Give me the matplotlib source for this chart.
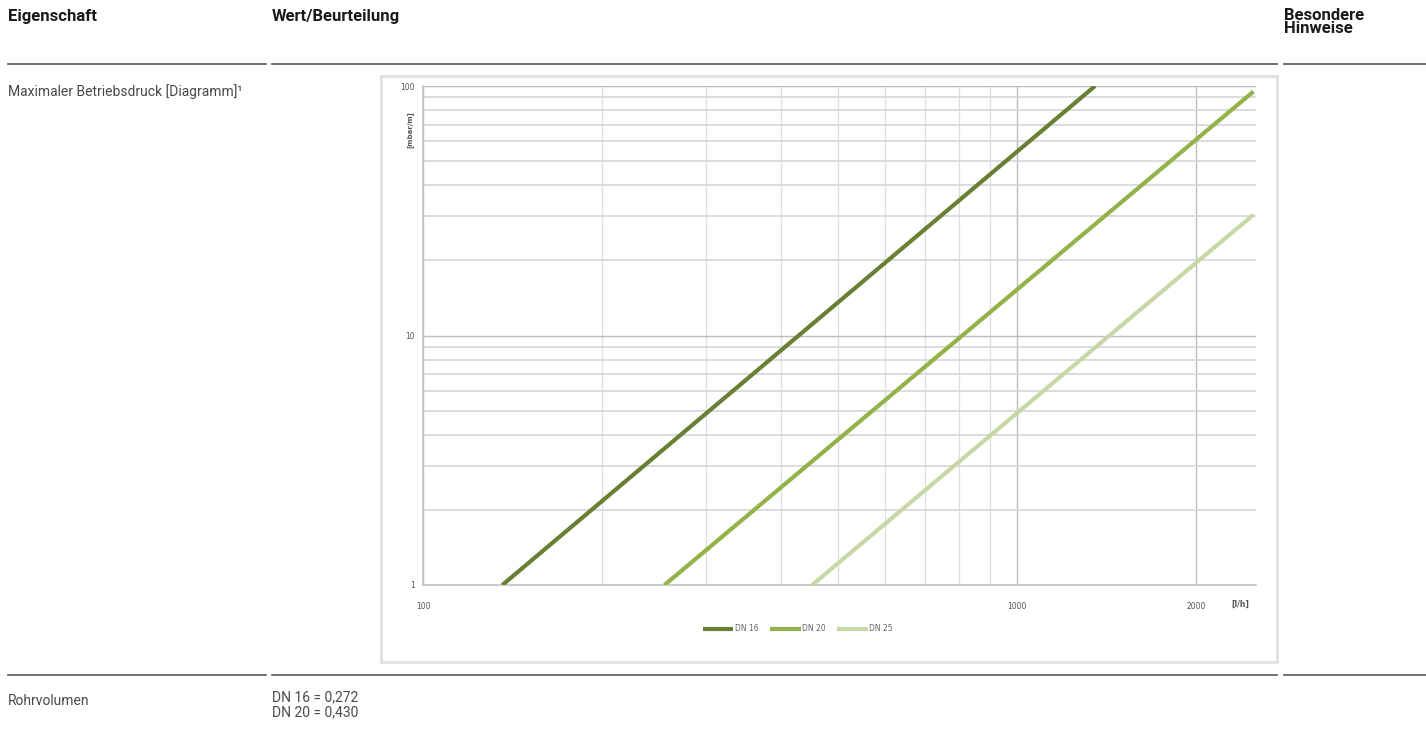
import matplotlib
matplotlib.use("Agg")
import matplotlib.pyplot as plt
from matplotlib.lines import Line2D
from matplotlib.patches import Rectangle
import numpy as np

# ---- data ----
series_names = ["DN 16", "DN 20", "DN 25"]
dn16_flow = [136, 1353]
dn16_pressure = [1, 100]
dn20_flow = [255, 2500]
dn20_pressure = [1, 95]
dn25_flow = [452, 2500]
dn25_pressure = [1, 30.5]
x_tick_values = [100, 1000, 2000]
x_tick_labels = ["100", "1000", "2000"]
y_tick_values = [1, 10, 100]
y_tick_labels = ["1", "10", "100"]
header_cols = ["Eigenschaft", "Wert/Beurteilung", "Besondere\nHinweise"]
row_labels = ["Maximaler Betriebsdruck [Diagramm]¹", "Rohrvolumen"]
rohr_values = ["DN 16 = 0,272", "DN 20 = 0,430"]

colors = ["#6b7f34", "#94b24a", "#c9d7a6"]

W, H = 1426, 735
fig = plt.figure(figsize=(W / 100, H / 100), dpi=100)
fig.patch.set_facecolor("white")

def fx(px):
    return px / W

def fy(py):
    return 1 - py / H

font = ["Roboto", "DejaVu Sans"]
hdr_color = "#1a1a1a"
txt_color = "#4a4a4a"

# header texts
fig.text(fx(8), fy(17), header_cols[0], fontsize=12, fontweight="bold", family=font,
         color=hdr_color, va="center", ha="left")
fig.text(fx(272), fy(17), header_cols[1], fontsize=12, fontweight="bold", family=font,
         color=hdr_color, va="center", ha="left")
fig.text(fx(1284), fy(22), header_cols[2], fontsize=12, fontweight="bold", family=font,
         color=hdr_color, va="center", ha="left", linespacing=0.85)

# table rules
for y in (64, 675):
    for x0, x1 in ((8, 266), (272, 1277), (1284, 1426)):
        fig.add_artist(Line2D([fx(x0), fx(x1)], [fy(y), fy(y)], color="#555555", lw=1.2,
                              transform=fig.transFigure))

fig.text(fx(8), fy(92), row_labels[0], fontsize=10, family=font, color=txt_color,
         va="center", ha="left")
fig.text(fx(8), fy(701), row_labels[1], fontsize=10, family=font, color=txt_color,
         va="center", ha="left")
fig.text(fx(272), fy(697), rohr_values[0], fontsize=10, family=font, color=txt_color,
         va="center", ha="left")
fig.text(fx(272), fy(712), rohr_values[1], fontsize=10, family=font, color=txt_color,
         va="center", ha="left")

# chart image frame
fig.add_artist(Rectangle((fx(381), fy(662)), fx(1277 - 381), (662 - 76) / H,
                         transform=fig.transFigure, facecolor="white",
                         edgecolor="#e0e0e0", lw=2.0, zorder=0))

# axes
ax = fig.add_axes([fx(423), fy(585), fx(1256 - 423), (585 - 86) / H])
ax.set_xscale("log")
ax.set_yscale("log")
ax.set_xlim(100, 2525)
ax.set_ylim(1, 100)

flows = [dn16_flow, dn20_flow, dn25_flow]
pressures = [dn16_pressure, dn20_pressure, dn25_pressure]
for name, f, p, c in zip(series_names, flows, pressures, colors):
    ax.plot(f, p, color=c, lw=3.0, label=name, solid_capstyle="butt", zorder=3)

ax.grid(True, which="major", axis="both", color="#bcbcbc", lw=1.0)
ax.grid(True, which="minor", axis="y", color="#d6d6d6", lw=1.2)
ax.grid(True, which="minor", axis="x", color="#dedede", lw=0.9)
ax.set_xticks(x_tick_values)
ax.set_xticklabels(x_tick_labels)
ax.set_yticks(y_tick_values)
ax.set_yticklabels(y_tick_labels)
ax.tick_params(which="both", length=0, labelsize=5.5, colors="#555555", pad=6)
ax.tick_params(axis="x", pad=12)
for s in ("top", "right"):
    ax.spines[s].set_visible(False)
for s in ("left", "bottom"):
    ax.spines[s].set_color("#c4c4c4")
    ax.spines[s].set_linewidth(1.2)

fig.text(fx(410), fy(130), "[mbar/m]", rotation=90, fontsize=5, fontweight="bold",
         color="#555555", va="center", ha="center")
fig.text(fx(1240), fy(604), "[l/h]", fontsize=5.5, fontweight="bold",
         color="#555555", va="center", ha="center")

ax.legend(loc="upper center", bbox_to_anchor=(0.45, -0.065), ncol=3, frameon=False,
          fontsize=5.5, handlelength=4.0, columnspacing=1.5, handletextpad=0.2,
          labelcolor="#666666")

fig.savefig("out.png", dpi=100)
